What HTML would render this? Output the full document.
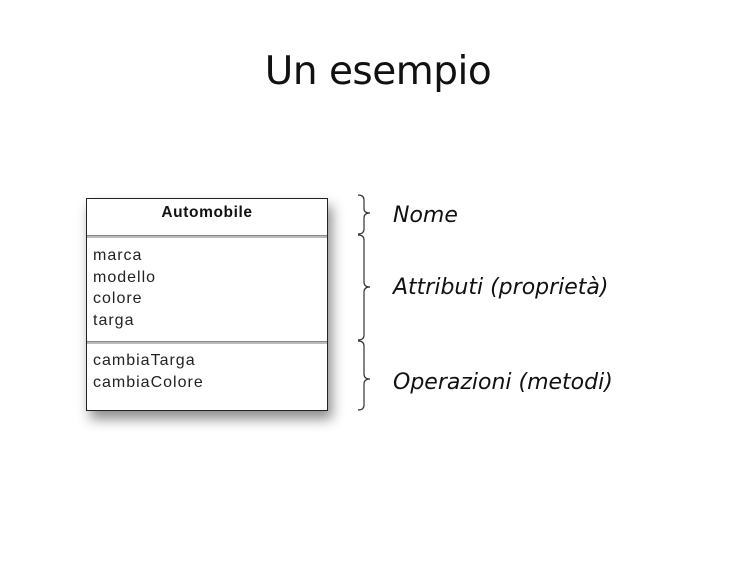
<!DOCTYPE html>
<html><head><meta charset="utf-8"><style>
body{margin:0;width:756px;height:562px;background:#fff;position:relative;overflow:hidden;font-family:"Liberation Sans",sans-serif}
.t{position:absolute;white-space:nowrap}
.title{left:0;width:756px;text-align:center;top:49px;font-size:39px;color:#111;font-family:"DejaVu Sans","Liberation Sans",sans-serif;letter-spacing:-0.5px}
.box{position:absolute;left:86px;top:198px;width:240px;height:211px;border:1px solid #222;background:#fff;box-shadow:4px 8px 12px rgba(0,0,0,0.45)}
.sep{position:absolute;left:0;width:240px;height:2px;background:#bbb;border-top:1px solid #888}
.lbl{font-family:"DejaVu Sans",sans-serif;font-style:italic;font-size:22px;color:#111}
.c{font-size:16px;letter-spacing:1px;color:#222;line-height:21.5px}
</style></head><body>
<div class="t title">Un esempio</div>
<div class="box">
 <div class="t" style="left:0;width:240px;text-align:center;top:5px;font-weight:bold;font-size:15.5px;letter-spacing:0.6px;color:#111">Automobile</div>
 <div class="sep" style="top:36px"></div>
 <div class="t c" style="left:6px;top:46px">marca<br>modello<br>colore<br>targa</div>
 <div class="sep" style="top:142px"></div>
 <div class="t c" style="left:6px;top:151px">cambiaTarga<br>cambiaColore</div>
</div>
<svg style="position:absolute;left:0;top:0" width="756" height="562">
<g fill="none" stroke="#333" stroke-width="1.2">
<path d="M358 195 Q364 195 364 200 L364 209 Q364 213 370 213 Q364 213 364 218 L364 229 Q364 234 358 234"/>
<path d="M358 235 Q364 235 364 240 L364 282 Q364 287 370 287 Q364 287 364 292 L364 335 Q364 340 358 340"/>
<path d="M358 341 Q364 341 364 346 L364 374 Q364 379 370 379 Q364 379 364 384 L364 405 Q364 410 358 410"/>
</g></svg>
<div class="t lbl" style="left:393px;top:203px">Nome</div>
<div class="t lbl" style="left:393px;top:275px">Attributi (proprietà)</div>
<div class="t lbl" style="left:393px;top:370px">Operazioni (metodi)</div>
</body></html>
